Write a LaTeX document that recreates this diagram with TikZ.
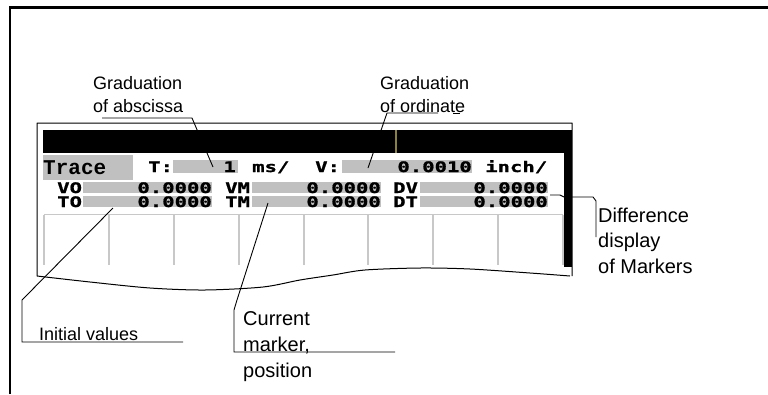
\documentclass[tikz,border=0pt]{standalone}
\usepackage{fontspec}
\setmainfont{Liberation Sans}
\newfontfamily\pixfont[FakeStretch=1.42,FakeBold=1.2]{DejaVu Sans Mono}
\newfontfamily\tracefont{Liberation Mono}
\definecolor{scrgray}{RGB}{192,192,192}
\definecolor{gridgray}{RGB}{200,200,200}
\definecolor{markolive}{RGB}{140,130,60}
\tikzset{
  lbl/.style={inner sep=0pt, anchor=base west, font=\fontsize{18}{22}\selectfont},
  biglbl/.style={inner sep=0pt, anchor=base west, font=\fontsize{20}{24}\selectfont},
  pix/.style={inner sep=0pt, font=\pixfont\bfseries\fontsize{14.5}{16}\selectfont},
  pixl/.style={pix, anchor=base west},
  pixr/.style={pix, anchor=base east},
  leader/.style={draw=black, line width=0.9pt},
  field/.style={fill=scrgray},
  gridline/.style={draw=gridgray, line width=1.2pt}
}
\begin{document}
\begin{tikzpicture}[x=1pt,y=-1pt]
\useasboundingbox (0,0) rectangle (768,394);
% outer frame
\draw[line width=2.5pt] (10,394) -- (10,7.5) -- (768,7.5);
% screen outline with wavy bottom
\draw[line width=1pt, line join=round] (37,276) -- (37,123) -- (572,123) -- (572,276)
  plot[smooth, tension=0.5] coordinates {(570,276) (530,273) (470,269) (420,268) (365,270) (333,275) (300,280) (263,287) (205,290) (150,288) (90,282) (37,276)};
% black bars
\fill (43,130) rectangle (572,153);
\fill (564,130) rectangle (572,267);
\draw[markolive, line width=1.5pt] (396,130) -- (396,153);
% fields
\fill[field] (43,155) rectangle (133,180);
\fill[field] (173,160) rectangle (238,173);
\fill[field] (342,160) rectangle (472,173);
\fill[field] (83,182) rectangle (212,193);
\fill[field] (83,196) rectangle (212,207);
\fill[field] (252,182) rectangle (381,193);
\fill[field] (252,196) rectangle (381,207);
\fill[field] (420,182) rectangle (548,193);
\fill[field] (420,196) rectangle (548,207);
% grid
\draw[gridline] (44,214.5) -- (563,214.5);
\foreach \gx in {44,109,174,239,304,368,433,498,563}
  \draw[gridline] (\gx,214.5) -- (\gx,265);
% screen texts
\node[inner sep=0pt, anchor=base west, font=\tracefont\bfseries\fontsize{21}{24}\selectfont] (trace) at (43,174) {Trace};
\node[pixl] (tlab) at (148,172) {T:};
\node[pixr] (tval) at (236,172) {1};
\node[pixl] (tunit) at (252,172) {ms/};
\node[pixl] (vlab) at (315,172) {V:};
\node[pixr] (vval) at (472,172) {0.0010};
\node[pixl] (vunit) at (485,172) {inch/};
\node[pixl] (vo) at (57,193) {VO};
\node[pixr] (voval) at (212,193) {0.0000};
\node[pixl] (vm) at (225,193) {VM};
\node[pixr] (vmval) at (381,193) {0.0000};
\node[pixl] (dv) at (393,193) {DV};
\node[pixr] (dvval) at (548,193) {0.0000};
\node[pixl] (to) at (57,207) {TO};
\node[pixr] (toval) at (212,207) {0.0000};
\node[pixl] (tm) at (225,207) {TM};
\node[pixr] (tmval) at (381,207) {0.0000};
\node[pixl] (dt) at (393,207) {DT};
\node[pixr] (dtval) at (548,207) {0.0000};
% labels
\node[lbl] (gabs1) at (93,89) {Graduation};
\node[lbl] (gabs2) at (93,112) {of abscissa};
\node[lbl] (gord1) at (380,89) {Graduation};
\node[lbl] (gord2) at (380,112) {of ordinate};
\node[lbl] (init) at (39,340) {Initial values};
\node[biglbl] (cur1) at (243,325) {Current};
\node[biglbl] (cur2) at (243,351) {marker,};
\node[biglbl] (cur3) at (243,377) {position};
\node[biglbl] (dif1) at (598,222) {Difference};
\node[biglbl] (dif2) at (598,247) {display};
\node[biglbl] (dif3) at (598,273) {of Markers};
% leader coordinates
\coordinate (a0) at (102,118); \coordinate (a1) at (192,118); \coordinate (a2) at (213,167);
\coordinate (o0) at (438,113); \coordinate (o1) at (387,113); \coordinate (o2) at (368,168);
\coordinate (o3) at (453,113); \coordinate (o4) at (460,113);
\coordinate (i0) at (113,208); \coordinate (i1) at (22,300); \coordinate (i2) at (22,342); \coordinate (i3) at (183,342);
\coordinate (c0) at (268,203); \coordinate (c1) at (237,300); \coordinate (c2) at (234,310); \coordinate (c3) at (234,352); \coordinate (c4) at (395,352);
\coordinate (d0) at (550,195); \coordinate (d1) at (560,195); \coordinate (d2) at (564,197); \coordinate (d3) at (593,197); \coordinate (d4) at (596,201); \coordinate (d5) at (596,237);
% leaders
\draw[leader] (a0) -- (a1) -- (a2);
\draw[leader] (o0) -- (o1) -- (o2);
\draw[leader] (o3) -- (o4);
\draw[leader] (i0) -- (i1) -- (i2) -- (i3);
\draw[leader] (c0) -- (c1) -- (c2) -- (c3) -- (c4);
\draw[leader] (d0) -- (d1) -- (d2) -- (d3) -- (d4) -- (d5);
% redraw right bar over leader
\fill (564,130) rectangle (572,267);
\end{tikzpicture}
\end{document}
